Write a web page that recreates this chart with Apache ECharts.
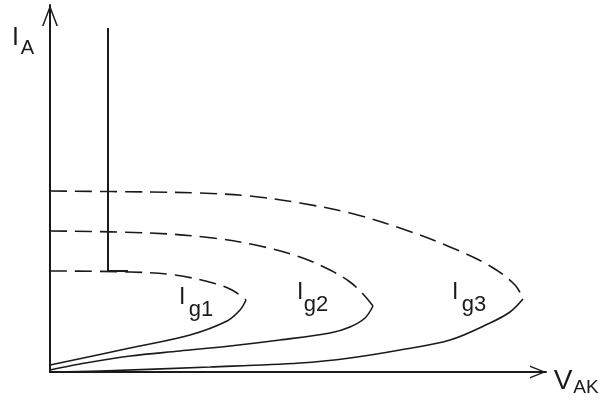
<!DOCTYPE html>
<html>
<head>
<meta charset="utf-8">
<style>
  html, body { margin: 0; padding: 0; background: #fff; }
  #chart { width: 604px; height: 400px; }
</style>
<script src="https://cdn.jsdelivr.net/npm/echarts@6/dist/echarts.min.js"></script>
</head>
<body>
<div id="chart"></div>
<script>
// Thyristor anode characteristic I_A(V_AK) for three gate currents.
// Each curve: dashed latched branch (from the holding level out to the
// breakover point) and the solid forward-blocking branch back to the origin.

// Latched (dashed) branches, [V_AK, I_A]
const ig1Dashed = [[0, 20.2], [20, 20], [31.25, 19.4], [40.75, 17.8], [45.5, 16.4], [49, 14.4]];
const ig2Dashed = [[0, 28.2], [25, 27.8], [40.75, 26.8], [52.5, 25.2], [62.5, 23], [70, 20.4], [75, 18], [78.25, 15.6], [80.75, 13.2]];
const ig3Dashed = [[0, 36.2], [25, 36], [37.5, 35.8], [50, 35.2], [62.5, 33.8], [75, 31.8], [87.5, 28.8], [100, 25], [110, 21.2], [116.25, 17.4], [118.25, 14.6]];

// Forward-blocking (solid) branches, [V_AK, I_A]
const ig1Solid = [[49, 14.4], [47.5, 12.4], [44.25, 10.2], [35, 7.4], [20, 4.8], [0, 1.4]];
const ig2Solid = [[80.75, 13.2], [78.75, 10.8], [75, 9], [70, 7.8], [57.5, 6.4], [45, 5.2], [32.5, 4.2], [20, 3.2], [7.5, 1.6], [0, 0.4]];
const ig3Solid = [[118.25, 14.6], [115, 12], [110, 9.8], [100, 6.4], [87.5, 4.4], [75, 2.8], [62.5, 1.8], [40, 1], [12.5, 0.2], [0, 0]];

// On-state line with its foot at the holding level
const onState = [[14.5, 68.8], [14.5, 20.2], [19.5, 20.2]];

const curveLabels = ['g1', 'g2', 'g3'];

const INK = '#1a1a1a';
const dashPattern = [17, 8];

function curve(name, data, dashed) {
  return {
    name: name,
    type: 'line',
    data: data,
    smooth: 0.35,
    showSymbol: false,
    symbol: 'none',
    silent: true,
    lineStyle: { color: INK, width: 1.6, type: dashed ? dashPattern : 'solid' }
  };
}

const chart = echarts.init(document.getElementById('chart'), null, { renderer: 'canvas' });

const labelFont = '23px "Liberation Sans", Arial, sans-serif';
const subFont = '22px "Liberation Sans", Arial, sans-serif';
const curveLabelPos = [[179, 201], [297, 316], [452, 474]];
const curveLabelY = [298, 293, 293];

const graphics = [];
curveLabels.forEach(function (sub, i) {
  graphics.push({
    type: 'text', silent: true,
    style: { text: 'I', x: curveLabelPos[i][0], y: curveLabelY[i], font: labelFont, fill: INK, textAlign: 'left', textVerticalAlign: 'middle' }
  });
  graphics.push({
    type: 'text', silent: true,
    style: { text: sub, x: curveLabelPos[i][1], y: curveLabelY[i] + 12, font: subFont, fill: INK, textAlign: 'center', textVerticalAlign: 'middle' }
  });
});
// Axis names
graphics.push(
  { type: 'text', silent: true, style: { text: 'I', x: 12, y: 38, font: '25px "Liberation Sans", Arial, sans-serif', fill: INK, textAlign: 'left', textVerticalAlign: 'middle' } },
  { type: 'text', silent: true, style: { text: 'A', x: 27.5, y: 48, font: '20px "Liberation Sans", Arial, sans-serif', fill: INK, textAlign: 'center', textVerticalAlign: 'middle' } },
  { type: 'text', silent: true, style: { text: 'V', x: 563, y: 381, font: '28px "Liberation Sans", Arial, sans-serif', fill: INK, textAlign: 'center', textVerticalAlign: 'middle' } },
  { type: 'text', silent: true, style: { text: 'AK', x: 586, y: 388, font: '19px "Liberation Sans", Arial, sans-serif', fill: INK, textAlign: 'center', textVerticalAlign: 'middle' } }
);

chart.setOption({
  animation: false,
  backgroundColor: '#ffffff',
  grid: { left: 50, right: 58, top: 5, bottom: 28, containLabel: false },
  xAxis: {
    type: 'value', min: 0, max: 124,
    axisLine: {
      show: true,
      lineStyle: { color: INK, width: 2 },
      symbol: ['none', 'path://M0,16 L6.5,0 L13,16 L11.4,16 L6.5,3.4 L1.6,16 Z'],
      symbolSize: [13, 16],
      symbolOffset: [0, -8]
    },
    axisTick: { show: false },
    axisLabel: { show: false },
    splitLine: { show: false }
  },
  yAxis: {
    type: 'value', min: 0, max: 73.4,
    axisLine: {
      show: true,
      lineStyle: { color: INK, width: 2 },
      symbol: ['none', 'path://M0,21 L8,0 L16,21 L14.4,21 L8,4 L1.6,21 Z'],
      symbolSize: [16, 21],
      symbolOffset: [0, -10.5]
    },
    axisTick: { show: false },
    axisLabel: { show: false },
    splitLine: { show: false }
  },
  graphic: graphics,
  series: [
    curve('Ig1 latched', ig1Dashed, true),
    curve('Ig1 blocking', ig1Solid, false),
    curve('Ig2 latched', ig2Dashed, true),
    curve('Ig2 blocking', ig2Solid, false),
    curve('Ig3 latched', ig3Dashed, true),
    curve('Ig3 blocking', ig3Solid, false),
    {
      name: 'on-state',
      type: 'line',
      data: onState,
      showSymbol: false,
      symbol: 'none',
      silent: true,
      lineStyle: { color: INK, width: 2 }
    }
  ]
});
</script>
</body>
</html>
